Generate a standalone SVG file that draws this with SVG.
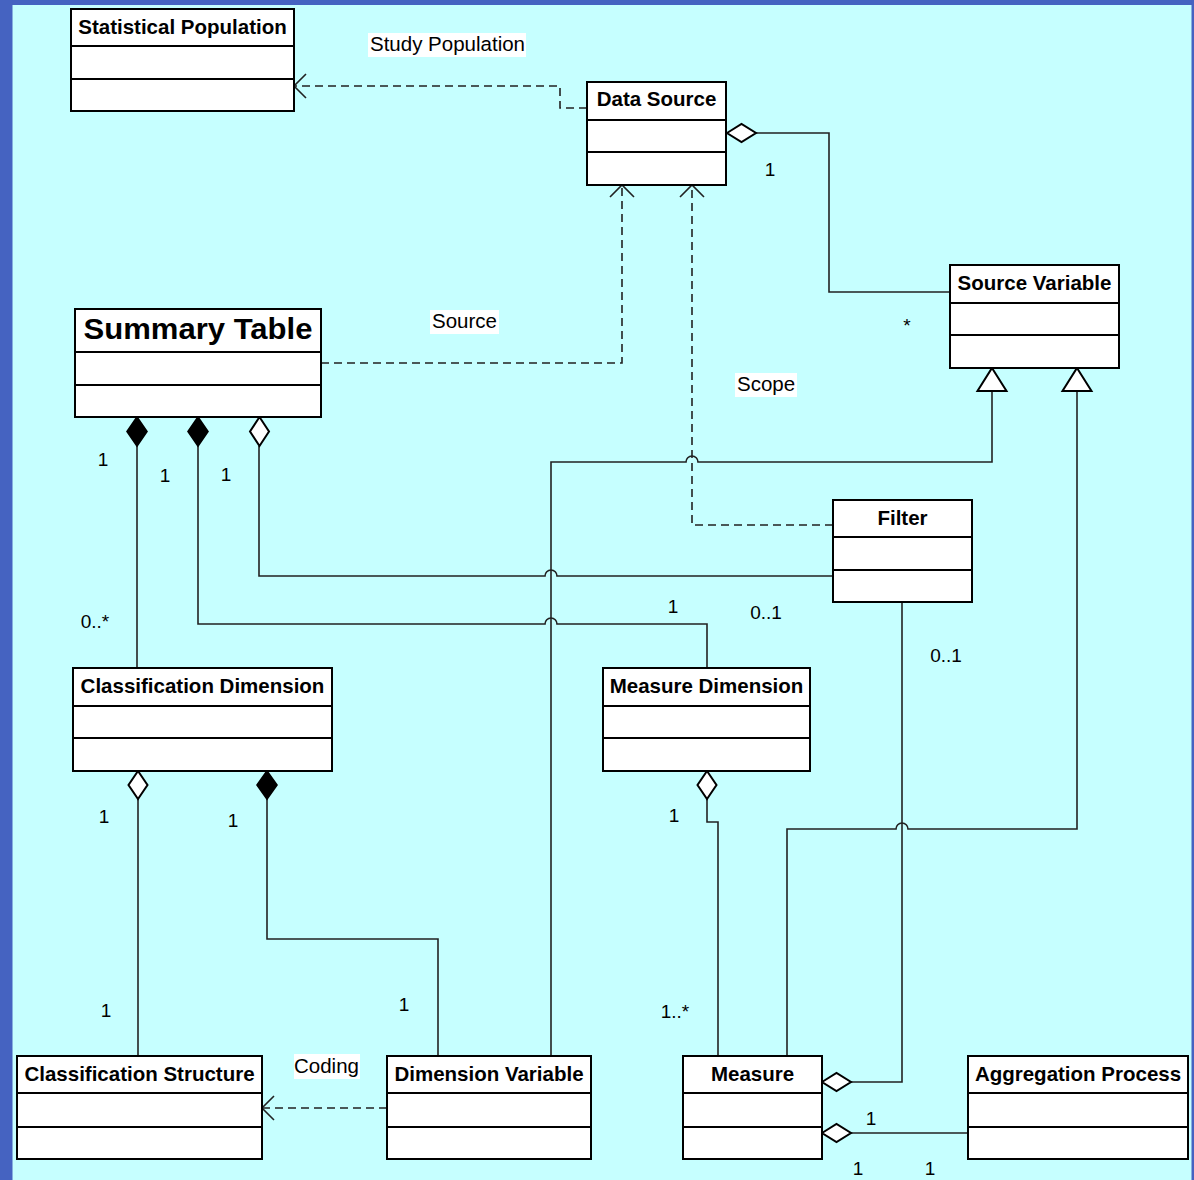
<svg xmlns="http://www.w3.org/2000/svg" width="1194" height="1180" viewBox="0 0 1194 1180">
<style>
.bg{fill:#C6FFFF}
.frame{fill:#4563C1}
.box{fill:#fff;stroke:#000;stroke-width:2}
.sep{stroke:#000;stroke-width:2;fill:none}
.title{font-family:"Liberation Sans",Arial,sans-serif;font-weight:bold;font-size:20.5px;fill:#000;text-anchor:middle}
.big{font-size:30px}
.lbl{font-family:"Liberation Sans",Arial,sans-serif;font-size:20.5px;fill:#000}
.mult{font-family:"Liberation Sans",Arial,sans-serif;font-size:19px;fill:#000;text-anchor:middle}
.ln{fill:none;stroke:#222;stroke-width:1.6}
.dash{fill:none;stroke:#222;stroke-width:1.6;stroke-dasharray:8,5}
.arr{fill:none;stroke:#222;stroke-width:1.6}
.dfill{fill:#000;stroke:#000;stroke-width:1.6}
.dhol{fill:#fff;stroke:#000;stroke-width:2}
.tri{fill:#fff;stroke:#000;stroke-width:2}
.lblbg{fill:#fff}
</style>
<rect class="bg" x="0" y="0" width="1194" height="1180"/>
<rect class="frame" x="0" y="0" width="1194" height="5"/>
<rect class="frame" x="0" y="0" width="12.5" height="1180"/>
<rect class="frame" x="1191.5" y="0" width="2.5" height="1180"/>

<g id="connectors">
  <path class="ln" d="M992,391 V462 H698 A6,6 0 0 0 686,462 H551 V1056"/>
  <path class="ln" d="M1077,391 V829 H908 A6,6 0 0 0 896,829 H787 V1056"/>
  <path class="ln" d="M259,446 V576 H545 A6,6 0 0 1 557,576 H833"/>
  <path class="ln" d="M198,446 V624 H545 A6,6 0 0 1 557,624 H707 V668"/>
  <path class="ln" d="M137,446 V668"/>
  <path class="ln" d="M138,799 V1056"/>
  <path class="ln" d="M267,799 V939 H438 V1056"/>
  <path class="ln" d="M707,799 V822 H718 V1056"/>
  <path class="ln" d="M902,602 V1082 H851"/>
  <path class="ln" d="M851,1133 H968"/>
  <path class="ln" d="M756,133 H829 V292 H950"/>
  <path class="dash" d="M587,108 H560 V86 H294"/>
  <path class="dash" d="M321,363 H622 V185"/>
  <path class="dash" d="M833,525 H692 V185"/>
  <path class="dash" d="M387,1108 H262"/>
  <path class="arr" d="M306,74 L294,86 L306,98"/>
  <path class="arr" d="M610,197 L622,185 L634,197"/>
  <path class="arr" d="M680,197 L692,185 L704,197"/>
  <path class="arr" d="M274,1096 L262,1108 L274,1120"/>
  <polygon class="dfill" points="137,417 147,431.5 137,446 127,431.5"/>
  <polygon class="dfill" points="198,417 208,431.5 198,446 188,431.5"/>
  <polygon class="dhol" points="259.5,417 269,431.5 259.5,446 250,431.5"/>
  <polygon class="dhol" points="138,771 147.5,785 138,799 128.5,785"/>
  <polygon class="dfill" points="267,771 277,785 267,799 257,785"/>
  <polygon class="dhol" points="707,771 716.5,785 707,799 697.5,785"/>
  <polygon class="dhol" points="727,133 741.5,124 756,133 741.5,142"/>
  <polygon class="dhol" points="822,1082 836.5,1073 851,1082 836.5,1091"/>
  <polygon class="dhol" points="822,1133 836.5,1124 851,1133 836.5,1142"/>
  <polygon class="tri" points="992,368 1006.5,391 977.5,391"/>
  <polygon class="tri" points="1077,368 1091.5,391 1062.5,391"/>
  <rect class="lblbg" x="368" y="33" width="158" height="24"/>
  <text class="lbl" x="370" y="51">Study Population</text>
  <rect class="lblbg" x="430" y="310" width="69" height="24"/>
  <text class="lbl" x="432" y="328">Source</text>
  <rect class="lblbg" x="735" y="373" width="62" height="24"/>
  <text class="lbl" x="737" y="391">Scope</text>
  <rect class="lblbg" x="294" y="1054" width="66" height="25"/>
  <text class="lbl" x="294" y="1073" textLength="65" lengthAdjust="spacingAndGlyphs">Coding</text>
  <text class="mult" x="770" y="176">1</text>
  <text class="mult" x="907" y="332">*</text>
  <text class="mult" x="103" y="466">1</text>
  <text class="mult" x="165" y="482">1</text>
  <text class="mult" x="226" y="481">1</text>
  <text class="mult" x="95" y="628">0..*</text>
  <text class="mult" x="673" y="613">1</text>
  <text class="mult" x="766" y="619">0..1</text>
  <text class="mult" x="946" y="662">0..1</text>
  <text class="mult" x="104" y="823">1</text>
  <text class="mult" x="233" y="827">1</text>
  <text class="mult" x="674" y="822">1</text>
  <text class="mult" x="106" y="1017">1</text>
  <text class="mult" x="404" y="1011">1</text>
  <text class="mult" x="675" y="1018">1..*</text>
  <text class="mult" x="871" y="1125">1</text>
  <text class="mult" x="858" y="1175">1</text>
  <text class="mult" x="930" y="1175">1</text>
</g>

<g id="statistical-population">
  <rect class="box" x="71" y="9" width="223" height="102"/>
  <path class="sep" d="M71,46 H294 M71,79 H294"/>
  <text class="title" x="182.5" y="34">Statistical Population</text>
</g>
<g id="data-source">
  <rect class="box" x="587" y="82" width="139" height="103"/>
  <path class="sep" d="M587,120 H726 M587,152 H726"/>
  <text class="title" x="656.5" y="106">Data Source</text>
</g>
<g id="source-variable">
  <rect class="box" x="950" y="265" width="169" height="103"/>
  <path class="sep" d="M950,303 H1119 M950,335 H1119"/>
  <text class="title" x="1034.5" y="290">Source Variable</text>
</g>
<g id="summary-table">
  <rect class="box" x="75" y="309" width="246" height="108"/>
  <path class="sep" d="M75,352 H321 M75,385 H321"/>
  <text class="title big" x="198" y="339" textLength="229" lengthAdjust="spacingAndGlyphs">Summary Table</text>
</g>
<g id="filter">
  <rect class="box" x="833" y="500" width="139" height="102"/>
  <path class="sep" d="M833,537 H972 M833,570 H972"/>
  <text class="title" x="902.5" y="525">Filter</text>
</g>
<g id="classification-dimension">
  <rect class="box" x="73" y="668" width="259" height="103"/>
  <path class="sep" d="M73,706 H332 M73,738 H332"/>
  <text class="title" x="202.5" y="693">Classification Dimension</text>
</g>
<g id="measure-dimension">
  <rect class="box" x="603" y="668" width="207" height="103"/>
  <path class="sep" d="M603,706 H810 M603,738 H810"/>
  <text class="title" x="706.5" y="693">Measure Dimension</text>
</g>
<g id="classification-structure">
  <rect class="box" x="17" y="1056" width="245" height="103"/>
  <path class="sep" d="M17,1093 H262 M17,1127 H262"/>
  <text class="title" x="139.5" y="1081">Classification Structure</text>
</g>
<g id="dimension-variable">
  <rect class="box" x="387" y="1056" width="204" height="103"/>
  <path class="sep" d="M387,1093 H591 M387,1127 H591"/>
  <text class="title" x="489" y="1081">Dimension Variable</text>
</g>
<g id="measure">
  <rect class="box" x="683" y="1056" width="139" height="103"/>
  <path class="sep" d="M683,1093 H822 M683,1127 H822"/>
  <text class="title" x="752.5" y="1081">Measure</text>
</g>
<g id="aggregation-process">
  <rect class="box" x="968" y="1056" width="220" height="103"/>
  <path class="sep" d="M968,1093 H1188 M968,1127 H1188"/>
  <text class="title" x="1078" y="1081">Aggregation Process</text>
</g>
</svg>
